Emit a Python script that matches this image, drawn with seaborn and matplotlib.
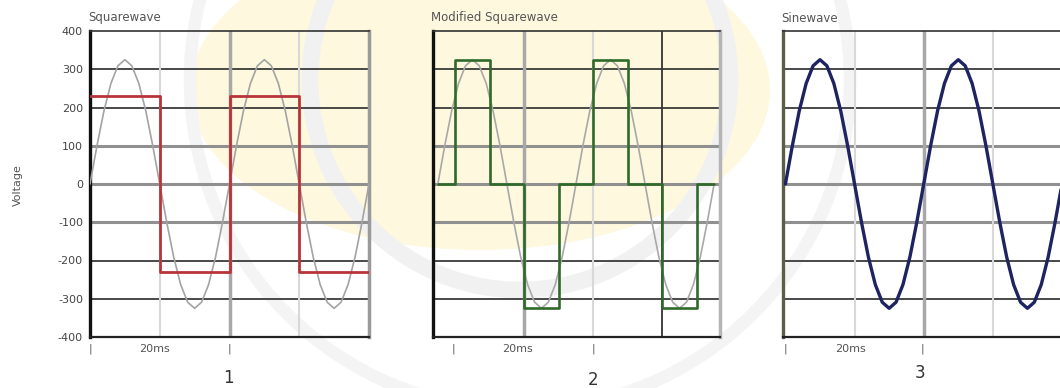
import matplotlib
matplotlib.use("Agg")
import matplotlib.pyplot as plt
import seaborn as sns
import pandas as pd
from matplotlib.patches import Ellipse, Circle

# mains sine, one point per millisecond (ms, volts)
sine_ms = list(range(41))
sine_volts = [0, 100, 191, 263, 309, 325, 309, 263, 191, 100,
              0, -100, -191, -263, -309, -325, -309, -263, -191, -100,
              0, 100, 191, 263, 309, 325, 309, 263, 191, 100,
              0, -100, -191, -263, -309, -325, -309, -263, -191, -100,
              0]

# squarewave edges (steps-post)
square_ms = [0, 10, 20, 30, 40]
square_volts = [230, -230, 230, -230, -230]

# modified squarewave edges (steps-post)
mod_ms = [0, 2.5, 7.5, 12.5, 17.5, 22.5, 27.5, 32.5, 37.5, 40]
mod_volts = [0, 325, 0, -325, 0, 325, 0, -325, 0, 0]

volt_ticks = [400, 300, 200, 100, 0, -100, -200, -300, -400]
panel_titles = ["Squarewave", "Modified Squarewave", "Sinewave"]
panel_numbers = ["1", "2", "3"]

sns.set_style("white")
plt.rcParams['font.family'] = ['DejaVu Sans']

W, H = 1060, 388
fig = plt.figure(figsize=(W / 100, H / 100), dpi=100)


def fx(px):
    return px / W


def fy(py):
    return 1 - py / H


# faint watermark behind the charts
bg = fig.add_axes([0, 0, 1, 1], zorder=-5)
bg.set_xlim(0, W)
bg.set_ylim(H, 0)
bg.axis("off")
bg.add_patch(Ellipse((480, 90), 580, 320, color="#fdf8de", lw=0))
bg.add_patch(Circle((520, 80), 210, fill=False, ec="#f1f1f1", lw=12))
bg.add_patch(Circle((520, 80), 330, fill=False, ec="#f4f4f4", lw=9))

sine_df = pd.DataFrame({"ms": sine_ms, "volts": sine_volts})
square_df = pd.DataFrame({"ms": square_ms, "volts": square_volts})
mod_df = pd.DataFrame({"ms": mod_ms, "volts": mod_volts})

# pixel boxes and per-panel details
panels = [
    dict(left=90, right=369, xlim=(0, 40), vlines=[(10, "#d8d8d8", 1.5), (20, "#a8a8a8", 2.5), (30, "#d8d8d8", 1.5)],
         ticks=[0, 9.3, 20], left_col="#111111", right_col="#9a9a9a"),
    dict(left=433, right=720, xlim=(-0.7, 40.85), vlines=[(12.5, "#a8a8a8", 2.5), (22.5, "#d8d8d8", 1.5), (32.5, "#333333", 1.3)],
         ticks=[2.3, 11.6, 22.5], left_col="#111111", right_col="#b5b5b5"),
    dict(left=783, right=1062, xlim=(-0.35, 40), vlines=[(10, "#d8d8d8", 1.5), (20, "#a8a8a8", 2.5), (30, "#d8d8d8", 1.5)],
         ticks=[0, 9.4, 19.8], left_col="#5e5e48", right_col="#9a9a9a"),
]
top_px, bottom_px = 31, 337

axes = []
for i, p in enumerate(panels):
    ax = fig.add_axes([fx(p["left"]), fy(bottom_px), fx(p["right"] - p["left"]), (bottom_px - top_px) / H])
    ax.set_facecolor("none")

    for v in volt_ticks[1:-1]:
        if v in (100, 0, -100):
            ax.axhline(v, color="#909090", lw=2.2, zorder=1)
        else:
            ax.axhline(v, color="#3a3a3a", lw=1.3, zorder=1)
    for x, c, w in p["vlines"]:
        ax.axvline(x, color=c, lw=w, zorder=1)

    for side in ["top", "bottom", "left", "right"]:
        ax.spines[side].set_visible(True)
    ax.spines["top"].set_color("#333333")
    ax.spines["top"].set_linewidth(1.2)
    ax.spines["bottom"].set_color("#222222")
    ax.spines["bottom"].set_linewidth(1.6)
    ax.spines["left"].set_color(p["left_col"])
    ax.spines["left"].set_linewidth(2.4)
    ax.spines["right"].set_color(p["right_col"])
    ax.spines["right"].set_linewidth(2.5)
    axes.append(ax)

ax1, ax2, ax3 = axes

# panel 1: squarewave over a thin sine
sns.lineplot(data=sine_df, x="ms", y="volts", ax=ax1, color="#a3a3a3", lw=1.2,
             estimator=None, sort=False, zorder=3)
sns.lineplot(data=square_df, x="ms", y="volts", ax=ax1, color="#b8343a", lw=2.0,
             estimator=None, sort=False, drawstyle="steps-post", zorder=4)

# panel 2: modified squarewave over a thin sine
sns.lineplot(data=sine_df, x="ms", y="volts", ax=ax2, color="#a8a8a8", lw=1.2,
             estimator=None, sort=False, zorder=3)
sns.lineplot(data=mod_df, x="ms", y="volts", ax=ax2, color="#2f6a2a", lw=1.9,
             estimator=None, sort=False, drawstyle="steps-post", zorder=4)

# panel 3: pure sine
sns.lineplot(data=sine_df, x="ms", y="volts", ax=ax3, color="#1e2462", lw=2.4,
             estimator=None, sort=False, zorder=4)

for i, (ax, p) in enumerate(zip(axes, panels)):
    ax.set_xlim(*p["xlim"])
    ax.set_ylim(-400, 400)
    ax.set_xlabel("")
    ax.set_ylabel("")
    ax.set_xticks(p["ticks"])
    ax.set_xticklabels(["|", "20ms", "|"], fontsize=8, color="#555555")
    ax.tick_params(axis="both", length=0, pad=5)
    ax.set_yticks(volt_ticks)
    if i == 0:
        ax.set_yticklabels([str(v) for v in volt_ticks], fontsize=8, color="#444444")
    else:
        ax.set_yticklabels([])

# titles, axis label and panel numbers
for title, p in zip(panel_titles, panels):
    fig.text(fx(p["left"] - 2), fy(18), title, fontsize=8.5, color="#555555", ha="left", va="center")
fig.text(fx(18), fy(185), "Voltage", rotation=90, fontsize=8, color="#555555", ha="center", va="center")
for num, (x, y) in zip(panel_numbers, [(228, 378), (593, 380), (920, 373)]):
    fig.text(fx(x), fy(y), num, fontsize=12, color="#333333", ha="center", va="center")

fig.savefig("out.png", dpi=100)
